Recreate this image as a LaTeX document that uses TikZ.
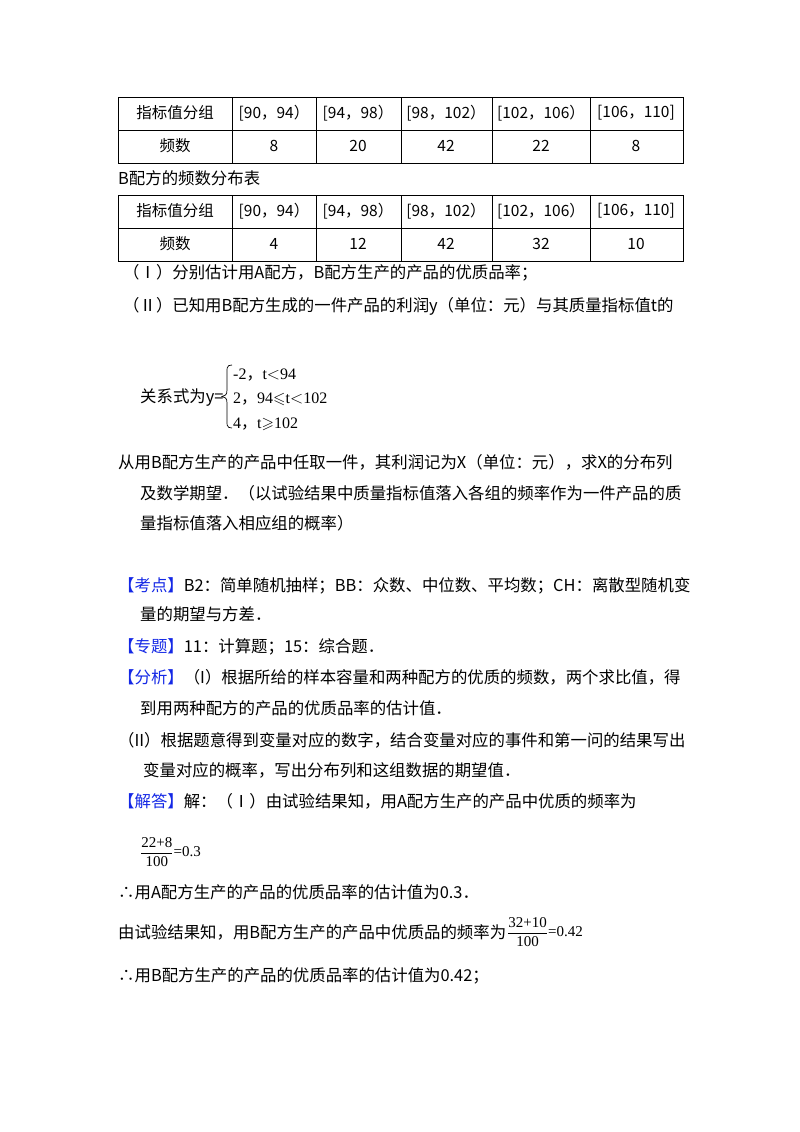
\documentclass[tikz,border=0pt]{standalone}
\usepackage{amssymb}
\usepackage{fontspec}
\setmainfont{Noto Sans CJK SC}
\newfontfamily\serf{Liberation Serif}
\definecolor{kblue}{RGB}{20,40,230}
\begin{document}
\begin{tikzpicture}[x=1pt,y=-1pt,
  txt/.style={anchor=base west,inner sep=0pt,font=\fontsize{16.4}{18}\selectfont},
  cell/.style={anchor=center,inner sep=0pt,font=\fontsize{15.5}{18}\selectfont},
  pw/.style={anchor=base west,inner sep=0pt,font=\serf\fontsize{16}{18}\selectfont}]
\useasboundingbox[fill=white] (0,0) rectangle (800,1132);
% tables
\foreach \yt in {97,195}{
  \draw[line width=0.8pt] (118,\yt) rectangle (683,\yt+66);
  \draw[line width=0.8pt] (118,\yt+33) -- (683,\yt+33);
  \foreach \xx in {232,316,401,492,590}{\draw[line width=0.8pt] (\xx,\yt) -- (\xx,\yt+66);}
  \node[cell] at (175,\yt+16) {指标值分组};
  \node[cell] at (274,\yt+16) {[90，94）};
  \node[cell] at (358,\yt+16) {[94，98）};
  \node[cell] at (446,\yt+16) {[98，102）};
  \node[cell] at (541,\yt+16) {[102，106）};
  \node[cell] at (636,\yt+16) {[106，110]};
  \node[cell] at (175,\yt+49) {频数};
}
\node[cell] at (274,146) {8};
\node[cell] at (358,146) {20};
\node[cell] at (446,146) {42};
\node[cell] at (541,146) {22};
\node[cell] at (636,146) {8};
\node[cell] at (274,244) {4};
\node[cell] at (358,244) {12};
\node[cell] at (446,244) {42};
\node[cell] at (541,244) {32};
\node[cell] at (636,244) {10};
\node[txt] (cap) at (118,184) {B配方的频数分布表};
\node[txt] (q1) at (123,278) {（Ⅰ）分别估计用A配方，B配方生产的产品的优质品率；};
\node[txt] (q2) at (123,311) {（Ⅱ）已知用B配方生成的一件产品的利润y（单位：元）与其质量指标值t的};
\node[txt] (rel) at (140,402) {关系式为y=};
\draw[line width=0.7pt] (232,365) .. controls (226,365) and (227,368) .. (227,378) -- (227,390) .. controls (227,395) and (225,396) .. (222,396.5) .. controls (225,397) and (227,398) .. (227,403) -- (227,415) .. controls (227,425) and (226,428) .. (232,428);
\node[pw] (c1) at (233,379) {-2{\rmfamily，}t$<$94};
\node[pw] (c2) at (233,403) {2{\rmfamily，}94$\leqslant$t$<$102};
\node[pw] (c3) at (233,428) {4{\rmfamily，}t$\geqslant$102};
\node[txt] (l1) at (118,468) {从用B配方生产的产品中任取一件，其利润记为X（单位：元），求X的分布列};
\node[txt] (l2) at (140,499) {及数学期望．（以试验结果中质量指标值落入各组的频率作为一件产品的质};
\node[txt] (l3) at (140,529) {量指标值落入相应组的概率）};
\node[txt] (k1) at (118,591) {\textcolor{kblue}{【考点】}B2：简单随机抽样；BB：众数、中位数、平均数；CH：离散型随机变};
\node[txt] (k2) at (140,620) {量的期望与方差．};
\node[txt] (z1) at (118,652) {\textcolor{kblue}{【专题】}11：计算题；15：综合题．};
\node[txt] (f1) at (118,683) {\textcolor{kblue}{【分析】}（I）根据所给的样本容量和两种配方的优质的频数，两个求比值，得};
\node[txt] (f2) at (140,714) {到用两种配方的产品的优质品率的估计值．};
\node[txt] (f3) at (118,746) {（II）根据题意得到变量对应的数字，结合变量对应的事件和第一问的结果写出};
\node[txt] (f4) at (143,776) {变量对应的概率，写出分布列和这组数据的期望值．};
\node[txt] (j1) at (118,807) {\textcolor{kblue}{【解答】}解：（Ⅰ）由试验结果知，用A配方生产的产品中优质的频率为};
\node[anchor=west,inner sep=0pt,font=\serf\fontsize{15}{18}\selectfont] (fr) at (140,852) {$\displaystyle\frac{\mbox{22+8}}{\mbox{100}}$=0.3};
\node[txt] (s1) at (118,898) {∴用A配方生产的产品的优质品率的估计值为0.3．};
\node[txt] (s2) at (118,938) {由试验结果知，用B配方生产的产品中优质品的频率为};
\node[anchor=west,inner sep=0pt,font=\serf\fontsize{15}{18}\selectfont] (fr2) at (507,932) {$\displaystyle\frac{\mbox{32+10}}{\mbox{100}}$=0.42};
\node[txt] (s3) at (118,981) {∴用B配方生产的产品的优质品率的估计值为0.42；};
\end{tikzpicture}
\end{document}
